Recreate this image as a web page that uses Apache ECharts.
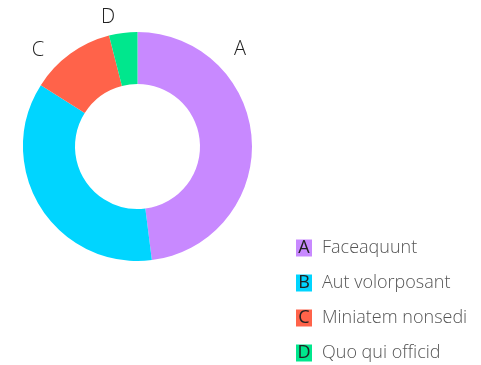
<!DOCTYPE html>
<html>
<head>
<meta charset="utf-8">
<script src="https://cdn.jsdelivr.net/npm/echarts@6/dist/echarts.min.js"></script>
<style>
  html, body { margin: 0; padding: 0; background: #fff; }
  #chart { width: 481px; height: 365px; }
</style>
</head>
<body>
<div id="chart"></div>
<script>
// Slice keys, their descriptions and their shares
const keys = ['A', 'B', 'C', 'D'];
const descriptions = ['Faceaquunt', 'Aut volorposant', 'Miniatem nonsedi', 'Quo qui officid'];
const values = [48, 36, 12, 4];
const colors = ['#c889ff', '#00d5ff', '#ff634a', '#00e78d'];

// Where each slice key is written around the ring
const labelSpots = [[240, 49], [47, 263], [38, 50], [108, 17]];

const FONT = "'Open Sans', 'Segoe UI', 'Noto Sans', sans-serif";

const rich = { t: { color: '#555', fontSize: 18, fontFamily: FONT, fontWeight: 300, padding: [0, 0, 0, 10] } };
keys.forEach((k, i) => {
  rich['k' + k] = {
    backgroundColor: colors[i], color: '#222', fontSize: 18, fontFamily: FONT, fontWeight: 400,
    width: 16, height: 17, lineHeight: 17, align: 'center'
  };
});

const chart = echarts.init(document.getElementById('chart'), null, { renderer: 'canvas' });
chart.setOption({
  animation: false,
  legend: {
    orient: 'vertical',
    left: 286,
    top: 234,
    height: 200,
    icon: 'none',
    itemWidth: 0,
    itemHeight: 18,
    itemGap: 17,
    selectedMode: false,
    data: keys,
    formatter: name => {
      const i = keys.indexOf(name);
      return '{k' + name + '|' + name + '}{t|' + descriptions[i] + '}';
    },
    textStyle: { rich: rich }
  },
  series: [{
    type: 'pie',
    center: [137.5, 146.5],
    radius: [62.5, 114.5],
    startAngle: 90,
    clockwise: true,
    data: keys.map((k, i) => ({ name: k, value: values[i], itemStyle: { color: colors[i] } })),
    label: {
      show: true,
      position: 'outside',
      formatter: '{b}',
      color: '#222',
      fontSize: 20,
      fontFamily: FONT,
      fontWeight: 300
    },
    labelLine: { show: false },
    labelLayout: params => ({
      x: labelSpots[params.dataIndex][0],
      y: labelSpots[params.dataIndex][1],
      align: 'center',
      verticalAlign: 'middle'
    }),
    emphasis: { disabled: true }
  }]
});
</script>
</body>
</html>
